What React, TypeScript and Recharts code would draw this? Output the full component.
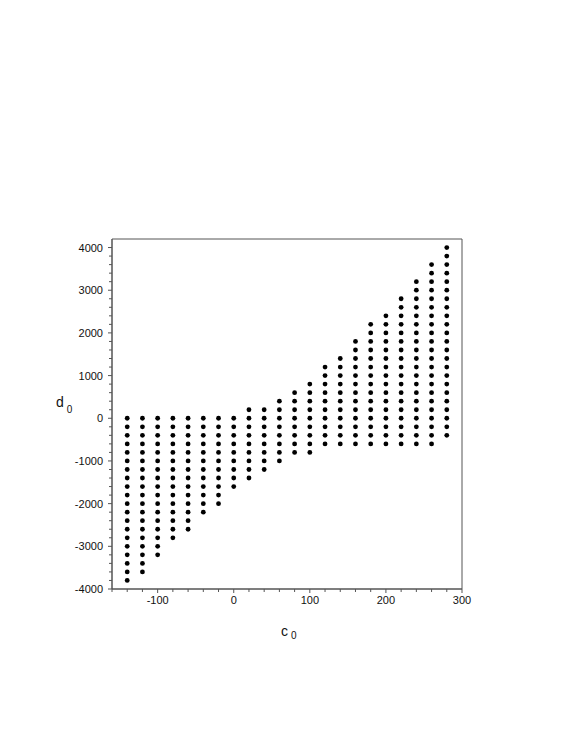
import React from "react";
import { ScatterChart, Scatter, XAxis, YAxis, ReferenceArea, Label } from "recharts";

// c0 columns and the lowest / highest d0 dot in each column (dots every 200)
const c0Values = [-140, -120, -100, -80, -60, -40, -20, 0, 20, 40, 60, 80, 100, 120, 140, 160, 180, 200, 220, 240, 260, 280];
const d0Min = [-3800, -3600, -3200, -2800, -2600, -2200, -2000, -1600, -1400, -1200, -1000, -800, -800, -600, -600, -600, -600, -600, -600, -600, -600, -400];
const d0Max = [0, 0, 0, 0, 0, 0, 0, 0, 200, 200, 400, 600, 800, 1200, 1400, 1800, 2200, 2400, 2800, 3200, 3600, 4000];
const d0Step = 200;

const xMajorTicks = [-100, 0, 100, 200, 300];
const yMajorTicks = [-4000, -3000, -2000, -1000, 0, 1000, 2000, 3000, 4000];

const xTicks: number[] = [];
for (let v = -160; v <= 300; v += 20) xTicks.push(v);
const yTicks: number[] = [];
for (let v = -4000; v <= 4000; v += 200) yTicks.push(v);

const points: { c0: number; d0: number }[] = [];
c0Values.forEach((c, i) => {
  for (let d = d0Min[i]; d <= d0Max[i]; d += d0Step) points.push({ c0: c, d0: d });
});

const font = "'Liberation Sans', Arial, sans-serif";
const axisColor = "#555";

const YTick = ({ x, y, payload }: any) => {
  const major = yMajorTicks.includes(payload.value);
  return (
    <g>
      <line x1={x - (major ? 4 : 3)} x2={x} y1={y} y2={y} stroke={axisColor} />
      {major && (
        <text x={x - 9} y={y} dy={4} textAnchor="end" fontSize={11} fill="#111" fontFamily={font}>
          {payload.value}
        </text>
      )}
    </g>
  );
};

const XTick = ({ x, y, payload }: any) => {
  const major = xMajorTicks.includes(payload.value);
  return (
    <g>
      <line x1={x} x2={x} y1={y} y2={y + (major ? 4 : 3)} stroke={axisColor} />
      {major && (
        <text x={x} y={y + 15} textAnchor="middle" fontSize={11} fill="#111" fontFamily={font}>
          {payload.value}
        </text>
      )}
    </g>
  );
};

const Dot = ({ cx, cy }: any) => <circle cx={cx} cy={cy} r={2.4} fill="#000" />;

const XLabel = ({ viewBox }: any) => (
  <text x={viewBox.x + viewBox.width / 2 - 6} y={viewBox.y + 47} fontSize={14} fill="#111" fontFamily={font}>
    c
    <tspan dx={3} dy={3} fontSize={10}>0</tspan>
  </text>
);

const YLabel = ({ viewBox }: any) => (
  <text x={viewBox.x + 4} y={viewBox.y + viewBox.height / 2 - 7} fontSize={14} fill="#111" fontFamily={font}>
    d
    <tspan dx={3} dy={6} fontSize={10}>0</tspan>
  </text>
);

export default function App() {
  return (
    <div style={{ position: "absolute", left: 0, top: 0, background: "#fff" }}>
      <ScatterChart width={575} height={747} margin={{ top: 239, right: 113, bottom: 128, left: 52 }}>
        <XAxis
          type="number"
          dataKey="c0"
          domain={[-160, 300]}
          ticks={xTicks}
          interval={0}
          height={30}
          tickSize={0}
          tickMargin={0}
          tick={<XTick />}
          axisLine={{ stroke: axisColor }}
          tickLine={false}
        >
          <Label content={<XLabel />} />
        </XAxis>
        <YAxis
          type="number"
          dataKey="d0"
          domain={[-4000, 4200]}
          ticks={yTicks}
          interval={0}
          width={60}
          tickSize={0}
          tickMargin={0}
          tick={<YTick />}
          axisLine={{ stroke: axisColor }}
          tickLine={false}
        >
          <Label content={<YLabel />} />
        </YAxis>
        <ReferenceArea x1={-160} x2={300} y1={-4000} y2={4200} fill="none" stroke={axisColor} />
        <Scatter data={points} shape={<Dot />} isAnimationActive={false} />
      </ScatterChart>
    </div>
  );
}
